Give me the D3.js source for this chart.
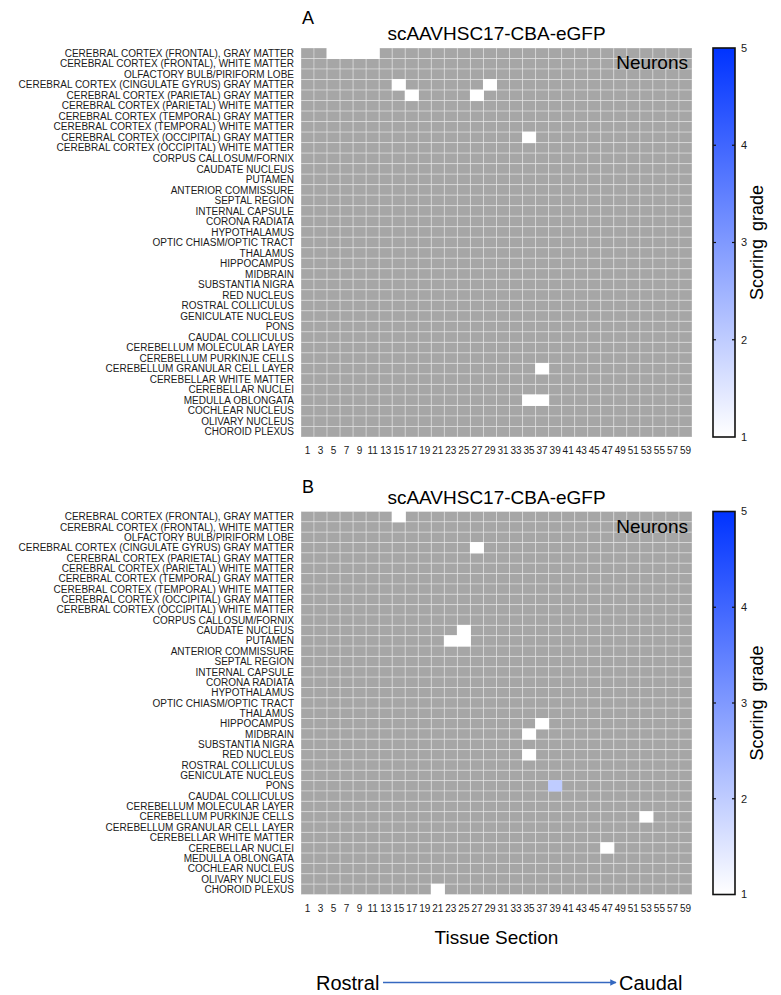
<!DOCTYPE html>
<html>
<head>
<meta charset="utf-8">
<script src="https://cdn.jsdelivr.net/npm/d3@7"></script>
<style>
  body { margin: 0; background: #fff; }
  svg { display: block; font-family: 'Liberation Sans', Arial, sans-serif; }
</style>
</head>
<body>
<svg id="chart" width="781" height="995"></svg>
<script>
// brain regions, top to bottom
const regions = [
  'CEREBRAL CORTEX (FRONTAL), GRAY MATTER',
  'CEREBRAL CORTEX (FRONTAL), WHITE MATTER',
  'OLFACTORY BULB/PIRIFORM LOBE',
  'CEREBRAL CORTEX (CINGULATE GYRUS) GRAY MATTER',
  'CEREBRAL CORTEX (PARIETAL) GRAY MATTER',
  'CEREBRAL CORTEX (PARIETAL) WHITE MATTER',
  'CEREBRAL CORTEX (TEMPORAL) GRAY MATTER',
  'CEREBRAL CORTEX (TEMPORAL) WHITE MATTER',
  'CEREBRAL CORTEX (OCCIPITAL) GRAY MATTER',
  'CEREBRAL CORTEX (OCCIPITAL) WHITE MATTER',
  'CORPUS CALLOSUM/FORNIX',
  'CAUDATE NUCLEUS',
  'PUTAMEN',
  'ANTERIOR COMMISSURE',
  'SEPTAL REGION',
  'INTERNAL CAPSULE',
  'CORONA RADIATA',
  'HYPOTHALAMUS',
  'OPTIC CHIASM/OPTIC TRACT',
  'THALAMUS',
  'HIPPOCAMPUS',
  'MIDBRAIN',
  'SUBSTANTIA NIGRA',
  'RED NUCLEUS',
  'ROSTRAL COLLICULUS',
  'GENICULATE NUCLEUS',
  'PONS',
  'CAUDAL COLLICULUS',
  'CEREBELLUM MOLECULAR LAYER',
  'CEREBELLUM PURKINJE CELLS',
  'CEREBELLUM GRANULAR CELL LAYER',
  'CEREBELLAR WHITE MATTER',
  'CEREBELLAR NUCLEI',
  'MEDULLA OBLONGATA',
  'COCHLEAR NUCLEUS',
  'OLIVARY NUCLEUS',
  'CHOROID PLEXUS'
]

// tissue sections (columns)
const sections = [1, 3, 5, 7, 9, 11, 13, 15, 17, 19, 21, 23, 25, 27, 29,
  31, 33, 35, 37, 39, 41, 43, 45, 47, 49, 51, 53, 55, 57, 59]

// scored cells [region, section, grade]; all other cells are not scored (gray)
const neuronsA = [
  ['CEREBRAL CORTEX (FRONTAL), GRAY MATTER', 5, 1],
  ['CEREBRAL CORTEX (FRONTAL), GRAY MATTER', 7, 1],
  ['CEREBRAL CORTEX (FRONTAL), GRAY MATTER', 9, 1],
  ['CEREBRAL CORTEX (FRONTAL), GRAY MATTER', 11, 1],
  ['CEREBRAL CORTEX (CINGULATE GYRUS) GRAY MATTER', 15, 1],
  ['CEREBRAL CORTEX (CINGULATE GYRUS) GRAY MATTER', 29, 1],
  ['CEREBRAL CORTEX (PARIETAL) GRAY MATTER', 17, 1],
  ['CEREBRAL CORTEX (PARIETAL) GRAY MATTER', 27, 1],
  ['CEREBRAL CORTEX (OCCIPITAL) GRAY MATTER', 35, 1],
  ['CEREBELLUM GRANULAR CELL LAYER', 37, 1],
  ['MEDULLA OBLONGATA', 35, 1],
  ['MEDULLA OBLONGATA', 37, 1]
]

const neuronsB = [
  ['CEREBRAL CORTEX (FRONTAL), GRAY MATTER', 15, 1],
  ['CEREBRAL CORTEX (CINGULATE GYRUS) GRAY MATTER', 27, 1],
  ['CAUDATE NUCLEUS', 25, 1],
  ['PUTAMEN', 23, 1],
  ['PUTAMEN', 25, 1],
  ['HIPPOCAMPUS', 37, 1],
  ['MIDBRAIN', 35, 1],
  ['RED NUCLEUS', 35, 1],
  ['PONS', 39, 2],
  ['CEREBELLUM PURKINJE CELLS', 53, 1],
  ['CEREBELLAR NUCLEI', 47, 1],
  ['CHOROID PLEXUS', 21, 1]
]

const gradeTicks = [1, 2, 3, 4, 5]

const svg = d3.select('#chart')
const color = d3.scaleLinear().domain([1, 5]).range(['#ffffff', '#0033ff'])
const naColor = '#a6a6a6'

const left = 301
const right = 692

function drawPanel (letter, letterY, cells, top, bottom, id) {
  const x = d3.scaleBand().domain(sections).range([left, right])
  const y = d3.scaleBand().domain(regions).range([top, bottom])
  const lookup = new Map(cells.map(c => [c[0] + '|' + c[1], c[2]]))
  const grid = []
  for (let r of regions) {
    for (let s of sections) {
      grid.push({region: r, section: s, grade: lookup.get(r + '|' + s)})
    }
  }
  const g = svg.append('g')
  // gray (not scored) cells first, with faint separators
  g.selectAll('rect.na')
    .data(grid.filter(d => d.grade === undefined))
    .enter()
    .append('rect')
    .attr('class', 'na')
    .attr('x', d => x(d.section))
    .attr('y', d => y(d.region))
    .attr('width', x.bandwidth())
    .attr('height', y.bandwidth())
    .attr('fill', naColor)
    .attr('stroke', '#ffffff')
    .attr('stroke-opacity', 0.32)
    .attr('stroke-width', 1)
  g.selectAll('rect.sc')
    .data(grid.filter(d => d.grade !== undefined))
    .enter()
    .append('rect')
    .attr('class', 'sc')
    .attr('x', d => x(d.section) - 0.5)
    .attr('y', d => y(d.region) - 0.5)
    .attr('width', x.bandwidth() + 1)
    .attr('height', y.bandwidth() + 1)
    .attr('fill', d => color(d.grade))

  // row labels
  g.selectAll('text.row')
    .data(regions)
    .enter()
    .append('text')
    .attr('class', 'row')
    .attr('x', left - 7)
    .attr('y', d => y(d) + y.bandwidth() / 2)
    .attr('dy', '0.36em')
    .attr('text-anchor', 'end')
    .style('font-size', '10px')
    .style('fill', '#1a1a1a')
    .text(d => d)

  // column labels
  g.selectAll('text.col')
    .data(sections)
    .enter()
    .append('text')
    .attr('class', 'col')
    .attr('x', d => x(d) + x.bandwidth() / 2)
    .attr('y', bottom + 17)
    .attr('text-anchor', 'middle')
    .style('font-size', '10px')
    .style('fill', '#1a1a1a')
    .text(d => d)

  g.append('text')
    .attr('x', 302)
    .attr('y', letterY)
    .style('font-size', '18px')
    .text(letter)
  g.append('text')
    .attr('x', (left + right) / 2)
    .attr('y', top - 8)
    .attr('text-anchor', 'middle')
    .style('font-size', '19px')
    .text('scAAVHSC17-CBA-eGFP')
  g.append('text')
    .attr('x', right - 4)
    .attr('y', top + 21)
    .attr('text-anchor', 'end')
    .style('font-size', '19px')
    .text('Neurons')

  // colour bar
  const cbX = 713
  const cbW = 22
  const cy = d3.scaleLinear().domain([1, 5]).range([bottom, top])
  const grad = svg.append('defs').append('linearGradient')
    .attr('id', id)
    .attr('x1', 0).attr('y1', 1).attr('x2', 0).attr('y2', 0)
  grad.append('stop').attr('offset', '0%').attr('stop-color', color(1))
  grad.append('stop').attr('offset', '100%').attr('stop-color', color(5))
  g.append('rect')
    .attr('x', cbX)
    .attr('y', top)
    .attr('width', cbW)
    .attr('height', bottom - top)
    .attr('fill', 'url(#' + id + ')')
    .attr('stroke', '#111')
    .attr('stroke-width', 1.6)
  g.selectAll('line.cbt')
    .data(gradeTicks.slice(1, 4))
    .enter()
    .append('line')
    .attr('x1', cbX)
    .attr('x2', cbX + 3)
    .attr('y1', d => cy(d))
    .attr('y2', d => cy(d))
    .attr('stroke', '#111')
    .attr('stroke-width', 1.2)
  g.selectAll('line.cbt2')
    .data(gradeTicks.slice(1, 4))
    .enter()
    .append('line')
    .attr('x1', cbX + cbW - 3)
    .attr('x2', cbX + cbW)
    .attr('y1', d => cy(d))
    .attr('y2', d => cy(d))
    .attr('stroke', '#111')
    .attr('stroke-width', 1.2)
  g.selectAll('text.cbl')
    .data(gradeTicks)
    .enter()
    .append('text')
    .attr('x', cbX + cbW + 6)
    .attr('y', d => cy(d))
    .attr('dy', '0.36em')
    .style('font-size', '11px')
    .style('fill', '#1a1a1a')
    .text(d => d)
  g.append('text')
    .attr('transform', 'translate(' + 763 + ',' + (top + bottom) / 2 + ') rotate(-90)')
    .attr('text-anchor', 'middle')
    .style('font-size', '18px')
    .style('word-spacing', '3px')
    .text('Scoring grade')
}

drawPanel('A', 24, neuronsA, 48, 437, 'gradA')
drawPanel('B', 493, neuronsB, 511.5, 894.5, 'gradB')

svg.append('text')
  .attr('x', (left + right) / 2)
  .attr('y', 944)
  .attr('text-anchor', 'middle')
  .style('font-size', '19px')
  .text('Tissue Section')

svg.append('defs').append('marker')
  .attr('id', 'arrow')
  .attr('viewBox', '0 0 10 10')
  .attr('refX', 9)
  .attr('refY', 5)
  .attr('markerWidth', 4)
  .attr('markerHeight', 4)
  .attr('orient', 'auto')
  .append('path')
  .attr('d', 'M0,0L10,5L0,10z')
  .attr('fill', '#3568c0')
svg.append('text')
  .attr('x', 316)
  .attr('y', 990)
  .style('font-size', '20px')
  .text('Rostral')
svg.append('line')
  .attr('x1', 383)
  .attr('x2', 616)
  .attr('y1', 982.5)
  .attr('y2', 982.5)
  .attr('stroke', '#3568c0')
  .attr('stroke-width', 1.6)
  .attr('marker-end', 'url(#arrow)')
svg.append('text')
  .attr('x', 619)
  .attr('y', 990)
  .style('font-size', '20px')
  .text('Caudal')
</script>
</body>
</html>
